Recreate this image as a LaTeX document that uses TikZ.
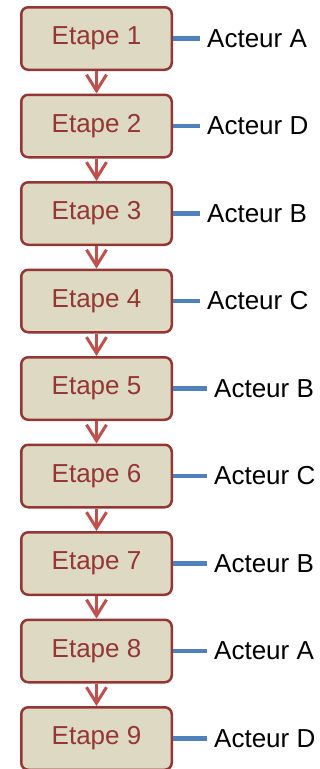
\documentclass[tikz,border=0pt]{standalone}
\usepackage{fontspec}
\setmainfont{Liberation Sans}
\usetikzlibrary{positioning, arrows.meta}

\definecolor{etapefill}{HTML}{DDD9C3}
\definecolor{etapedraw}{HTML}{943634}
\definecolor{suitered}{HTML}{C0504D}
\definecolor{lienblue}{HTML}{4F81BD}

\tikzset{
	etape/.style={draw=etapedraw, fill=etapefill, text=etapedraw, line width=2.5pt,
		rounded corners=7pt, minimum width=150.5pt, minimum height=62.5pt, inner sep=0pt,
		font=\fontsize{26}{30}\selectfont},
	acteur/.style={inner xsep=7pt, inner ysep=0pt, font=\fontsize{26}{30}\selectfont},
	suite/.style={draw=suitered, line width=3pt, -{Straight Barb[length=16pt,width=20pt]}},
	lien/.style={draw=lienblue, line width=4.5pt},
}

\begin{document}
\begin{tikzpicture}[node distance=22.5pt]%[bend angle=75]
	\useasboundingbox (0,0) rectangle (320pt,-769pt);

	\node[etape] (e1) at (96.5pt,-38.5pt) {Etape 1};
	\node[etape, below=of e1] (e2) {Etape 2};
	\node[etape, below=of e2] (e3) {Etape 3};
	\node[etape, below=of e3] (e4) {Etape 4};
	\node[etape, below=of e4] (e5) {Etape 5};
	\node[etape, below=of e5] (e6) {Etape 6};
	\node[etape, below=of e6] (e7) {Etape 7};
	\node[etape, below=of e7] (e8) {Etape 8};
	\node[etape, below=of e8] (e9) {Etape 9};

	\node[acteur, right=27pt of e1] (a1) {Acteur A};
	\node[acteur, right=27pt of e2] (a2) {Acteur D};
	\node[acteur, right=27pt of e3] (a3) {Acteur B};
	\node[acteur, right=27pt of e4] (a4) {Acteur C};
	\node[acteur, right=34pt of e5] (a5) {Acteur B};
	\node[acteur, right=34pt of e6] (a6) {Acteur C};
	\node[acteur, right=34pt of e7] (a7) {Acteur B};
	\node[acteur, right=34pt of e8] (a8) {Acteur A};
	\node[acteur, right=34pt of e9] (a9) {Acteur D};

	\draw [suite]
		(e1) edge (e2)
		(e2) edge (e3)
		(e3) edge (e4)
		(e4) edge (e5)
		(e5) edge (e6)
		(e6) edge (e7)
		(e7) edge (e8)
		(e8) edge (e9)
		;

	\draw [lien]
		(e1) edge (a1)
		(e2) edge (a2)
		(e3) edge (a3)
		(e4) edge (a4)
		(e5) edge (a5)
		(e6) edge (a6)
		(e7) edge (a7)
		(e8) edge (a8)
		(e9) edge (a9)
		;
\end{tikzpicture}
\end{document}
